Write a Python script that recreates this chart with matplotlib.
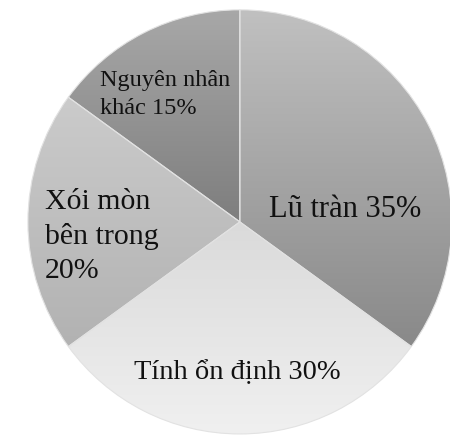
import matplotlib
matplotlib.use("Agg")
import matplotlib.pyplot as plt
import numpy as np
from matplotlib.colors import LinearSegmentedColormap

# Nguyên nhân sự cố đập (%)
labels = ["Lũ tràn 35%", "Tính ổn định 30%", "Xói mòn\nbên trong\n20%", "Nguyên nhân\nkhác 15%"]
shares = [35, 30, 20, 15]

# top / bottom shade of each wedge
shade_top = ["#c0c0c0", "#dadada", "#cbcbcb", "#a8a8a8"]
shade_bot = ["#898989", "#f0f0f0", "#b2b2b2", "#7e7e7e"]

fig = plt.figure(figsize=(4.5, 4.46), dpi=100)
ax = fig.add_axes([0.062, 0.027, 0.942, 0.951])
ax.axis("off")

wedges, _ = ax.pie(shares, startangle=90, counterclock=False, radius=1,
                   colors=shade_top,
                   wedgeprops=dict(edgecolor="#e2e2e2", linewidth=0.8))

# vertical gradient fill clipped to each wedge
grad = np.linspace(0, 1, 256).reshape(-1, 1)
for w, c0, c1 in zip(wedges, shade_top, shade_bot):
    bb = w.get_path().get_extents(w.get_patch_transform())
    cmap = LinearSegmentedColormap.from_list("g", [c0, c1])
    im = ax.imshow(grad, cmap=cmap, aspect="auto", origin="upper",
                   extent=[bb.x0, bb.x1, bb.y0, bb.y1], zorder=2)
    im.set_clip_path(w)
    w.set_zorder(3)
    w.set_facecolor("none")

ax.set_xlim(-1, 1)
ax.set_ylim(-1, 1)

serif = "Liberation Serif"
ax.text(0.495, 0.06, labels[0], ha="center", va="center", fontsize=22,
        family=serif, color="#111111", zorder=5)
ax.text(-0.01, -0.71, labels[1], ha="center", va="center", fontsize=20.5,
        family=serif, color="#111111", zorder=5)
ax.text(-0.92, -0.07, labels[2], ha="left", va="center", fontsize=21.5,
        family=serif, color="#111111", linespacing=1.38, zorder=5)
ax.text(-0.66, 0.60, labels[3], ha="left", va="center", fontsize=17.5,
        family=serif, color="#111111", linespacing=1.4, zorder=5)

fig.savefig("out.png", dpi=100, facecolor="white")
